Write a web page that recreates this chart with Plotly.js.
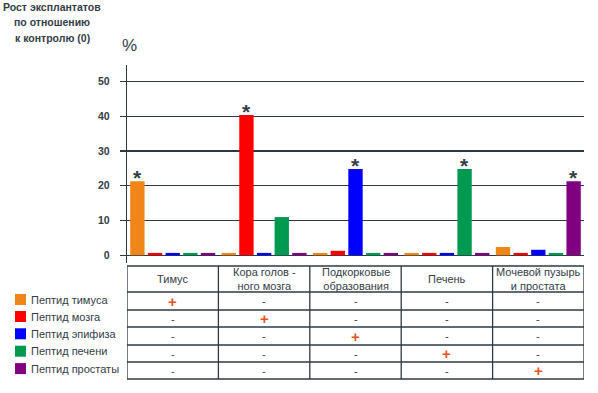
<!DOCTYPE html>
<html>
<head>
<meta charset="utf-8">
<script src="https://cdn.plot.ly/plotly-3.0.1.min.js"></script>
<style>
html,body{margin:0;padding:0;background:#fff;}
#chart{width:598px;height:393px;}
</style>
</head>
<body>
<div id="chart"></div>
<script>
// ---- data ----
const categories = ["Тимус", "Кора головного мозга", "Подкорковые образования", "Печень", "Мочевой пузырь и простата"];
const tableHeaders = ["Тимус", "Кора голов -<br>ного мозга", "Подкорковые<br>образования", "Печень", "Мочевой пузырь<br>и простата"];
const seriesNames = ["Пептид тимуса", "Пептид мозга", "Пептид эпифиза", "Пептид печени", "Пептид простаты"];
const thymusPeptide = [21.3, 0.7, 0.7, 0.7, 2.4];
const brainPeptide = [0.7, 40.3, 1.3, 0.7, 0.7];
const epiphysisPeptide = [0.7, 0.7, 24.8, 0.7, 1.6];
const liverPeptide = [0.7, 11.0, 0.7, 24.8, 0.7];
const prostatePeptide = [0.7, 0.7, 0.7, 0.7, 21.3];
// table marks: one row per peptide, one column per tissue
const marksThymus = ["+", "-", "-", "-", "-"];
const marksBrain = ["-", "+", "-", "-", "-"];
const marksEpiphysis = ["-", "-", "+", "-", "-"];
const marksLiver = ["-", "-", "-", "+", "-"];
const marksProstate = ["-", "-", "-", "-", "+"];
const yTicks = [0, 10, 20, 30, 40, 50];
const titleLines = ["Рост эксплантатов", "по отношению", "к контролю (0)"];

// ---- styling ----
const colors = ["#f0861a", "#ff0000", "#0000ff", "#009950", "#800080"];
const seriesValues = [thymusPeptide, brainPeptide, epiphysisPeptide, liverPeptide, prostatePeptide];
const seriesMarks = [marksThymus, marksBrain, marksEpiphysis, marksLiver, marksProstate];
const FONT = "Liberation Sans, Arial, sans-serif";
const DARK = "#2d3a44";
const TXT = "#333d46";
const PLUS = "#e8521a";
const LW = 1.3;

const W = 598, H = 393;
const M = {l: 127, r: 14, t: 65, b: 130};
const plotW = W - M.l - M.r, plotH = H - M.t - M.b;
const px2x = p => (p - M.l) / plotW;          // pixel -> paper x
const px2y = p => (H - M.b - p) / plotH;      // pixel -> paper y

const BARGAP = 0.034, GROUPGAP = 0.187;
const slot = (1 - BARGAP) / seriesValues.length;

const traces = seriesValues.map((vals, i) => ({
  type: "bar",
  name: seriesNames[i],
  x: categories,
  y: vals,
  marker: {color: colors[i], line: {width: 0}},
  hoverinfo: "none",
  showlegend: false
}));

const annotations = [];
const shapes = [];

// title lines (top-left)
const titleCenters = [7.5, 22.5, 37.5];
titleLines.forEach((t, i) => {
  annotations.push({
    xref: "paper", yref: "paper", x: px2x(52), y: px2y(titleCenters[i]),
    xanchor: "center", yanchor: "middle", text: t, showarrow: false,
    font: {family: FONT, size: 10.5, color: TXT, weight: "bold"}
  });
});

// asterisks over significant bars
seriesValues.forEach((vals, s) => {
  vals.forEach((v, g) => {
    if (seriesMarks[s][g] === "+") {
      annotations.push({
        xref: "x", yref: "y",
        x: g + (s - (seriesValues.length - 1) / 2) * slot,
        y: v, yanchor: "bottom", xanchor: "center",
        text: "*", showarrow: false, yshift: -10,
        font: {family: FONT, size: 21, color: TXT, weight: "bold"}
      });
    }
  });
});

// "%" label
annotations.push({
  xref: "paper", yref: "paper", x: px2x(129.5), y: px2y(46),
  xanchor: "center", yanchor: "middle", text: "%", showarrow: false,
  font: {family: FONT, size: 17, color: TXT}
});

// table geometry (pixel rows)
const rowLines = [266, 292, 310, 327, 345, 362, 379];
rowLines.forEach(py => {
  shapes.push({type: "line", xref: "x", yref: "paper",
    x0: -0.5, x1: categories.length - 0.5, y0: px2y(py), y1: px2y(py),
    line: {color: DARK, width: LW}});
});
for (let c = 0; c <= categories.length; c++) {
  shapes.push({type: "line", xref: "x", yref: "paper",
    x0: c - 0.5, x1: c - 0.5, y0: px2y(rowLines[0]), y1: px2y(rowLines[rowLines.length - 1]),
    line: {color: DARK, width: LW}});
}
tableHeaders.forEach((h, c) => {
  annotations.push({
    xref: "x", yref: "paper", x: c, y: px2y((rowLines[0] + rowLines[1]) / 2),
    xanchor: "center", yanchor: "middle", text: h, showarrow: false,
    font: {family: FONT, size: 11, color: TXT}
  });
});
seriesMarks.forEach((row, r) => {
  const yc = px2y((rowLines[r + 1] + rowLines[r + 2]) / 2);
  row.forEach((m, c) => {
    const plus = m === "+";
    annotations.push({
      xref: "x", yref: "paper", x: c, y: yc,
      xanchor: "center", yanchor: "middle", text: plus ? "+" : "-", showarrow: false,
      font: plus ? {family: FONT, size: 15, color: PLUS, weight: "bold"}
                 : {family: FONT, size: 11, color: TXT}
    });
  });
});

// custom legend
const legendCenters = [299.5, 316.5, 333.8, 351.2, 368.6];
seriesNames.forEach((n, i) => {
  const yc = legendCenters[i];
  shapes.push({type: "rect", xref: "paper", yref: "paper",
    x0: px2x(15), x1: px2x(26), y0: px2y(yc + 5.5), y1: px2y(yc - 5.5),
    fillcolor: colors[i], line: {width: 0}});
  annotations.push({
    xref: "paper", yref: "paper", x: px2x(28.5), y: px2y(yc),
    xanchor: "left", yanchor: "middle", text: n, showarrow: false,
    font: {family: FONT, size: 11, color: TXT}
  });
});

const layout = {
  width: W, height: H,
  margin: M,
  paper_bgcolor: "#ffffff",
  plot_bgcolor: "#ffffff",
  barmode: "group",
  bargap: BARGAP,
  bargroupgap: GROUPGAP,
  showlegend: false,
  xaxis: {
    type: "category",
    range: [-0.5, categories.length - 0.5],
    showticklabels: false, showgrid: false, zeroline: false, showline: false, ticks: "",
    fixedrange: true
  },
  yaxis: {
    range: [-2.2, 54.7],
    tickvals: yTicks, ticktext: yTicks.map(String),
    ticks: "outside", ticklen: 6, tickwidth: LW, tickcolor: DARK,
    ticklabelstandoff: 8,
    showline: true, linecolor: DARK, linewidth: LW,
    showgrid: true, gridcolor: DARK, gridwidth: LW,
    zeroline: true, zerolinecolor: DARK, zerolinewidth: LW,
    tickfont: {family: FONT, size: 10.5, color: TXT, weight: "bold"},
    fixedrange: true
  },
  shapes: shapes,
  annotations: annotations
};

Plotly.newPlot("chart", traces, layout, {displayModeBar: false, staticPlot: true});
</script>
</body>
</html>
